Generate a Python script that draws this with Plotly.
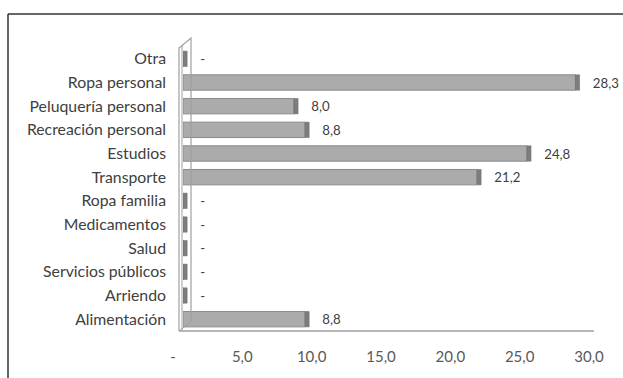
import plotly.graph_objects as go

categories = ["Alimentación", "Arriendo", "Servicios públicos", "Salud", "Medicamentos",
              "Ropa familia", "Transporte", "Estudios", "Recreación personal",
              "Peluquería personal", "Ropa personal", "Otra"]
values = [8.8, 0, 0, 0, 0, 0, 21.2, 24.8, 8.8, 8.0, 28.3, 0]
tick_vals = [0, 5, 10, 15, 20, 25, 30]
tick_text = ["-", "5,0", "10,0", "15,0", "20,0", "25,0", "30,0"]

W, H = 623, 378
L, R, T, B = 183, 24, 47, 47
pw, ph = W - L - R, H - T - B

def px(x):
    return (x - L) / pw

def py(y):
    return (H - B - y) / ph

labels = ["\u00a0\u00a0\u00a0" + (f"{v:.1f}".replace(".", ",") if v > 0 else "-") for v in values]
cap = 0.3

fig = go.Figure()
fig.add_trace(go.Bar(
    y=categories, x=values, orientation="h",
    marker=dict(color="#ababab", line=dict(color="#8a8a8a", width=1)),
    hoverinfo="skip",
))
fig.add_trace(go.Bar(
    y=categories, x=[cap] * len(values), base=values, orientation="h",
    marker=dict(color="#7d7d7d", line=dict(color="#6a6a6a", width=0.5)),
    text=labels, textposition="outside", cliponaxis=False,
    textfont=dict(family="Lato, sans-serif", size=15.5, color="#404040"),
    hoverinfo="skip",
))

gray = "#a0a0a0"
shapes = [
    # outer frame (left and top)
    dict(type="line", xref="paper", yref="paper", x0=px(8), y0=py(390), x1=px(8), y1=py(14),
         line=dict(color="#333333", width=1.5)),
    dict(type="line", xref="paper", yref="paper", x0=px(8), y0=py(14), x1=px(640), y1=py(14),
         line=dict(color="#333333", width=1.5)),
    # left wall
    dict(type="path", xref="paper", yref="paper",
         path=f"M {px(179)},{py(331)} L {px(179)},{py(48)} L {px(191)},{py(38)} L {px(191)},{py(322)}",
         line=dict(color=gray, width=1.2)),
    dict(type="line", xref="paper", yref="paper", x0=px(182), y0=py(331), x1=px(182), y1=py(46),
         line=dict(color=gray, width=1)),
    # floor
    dict(type="line", xref="paper", yref="paper", x0=px(179), y0=py(331), x1=px(594), y1=py(331),
         line=dict(color=gray, width=1.5)),
    dict(type="line", xref="paper", yref="paper", x0=px(179), y0=py(331), x1=px(191), y1=py(322),
         line=dict(color=gray, width=1)),
]

fig.update_layout(
    width=W, height=H,
    margin=dict(l=L, r=R, t=T, b=B, autoexpand=False),
    paper_bgcolor="white", plot_bgcolor="white",
    barmode="overlay", bargap=0.35, showlegend=False,
    font=dict(family="Lato, sans-serif", size=15.5, color="#404040"),
    shapes=shapes,
    xaxis=dict(range=[0, 30], tickvals=tick_vals, ticktext=tick_text,
               showgrid=False, zeroline=False, showline=False,
               ticklabelshift=-10, ticklabelstandoff=15,
               tickfont=dict(size=15, color="#595959"), fixedrange=True),
    yaxis=dict(categoryorder="array", categoryarray=categories,
               showgrid=False, zeroline=False, showline=False,
               ticklabelstandoff=16, tickfont=dict(size=15.8, color="#404040"),
               fixedrange=True),
)

fig.write_html("out.html", config={"displayModeBar": False},
               post_script="document.body.style.margin='0';")
